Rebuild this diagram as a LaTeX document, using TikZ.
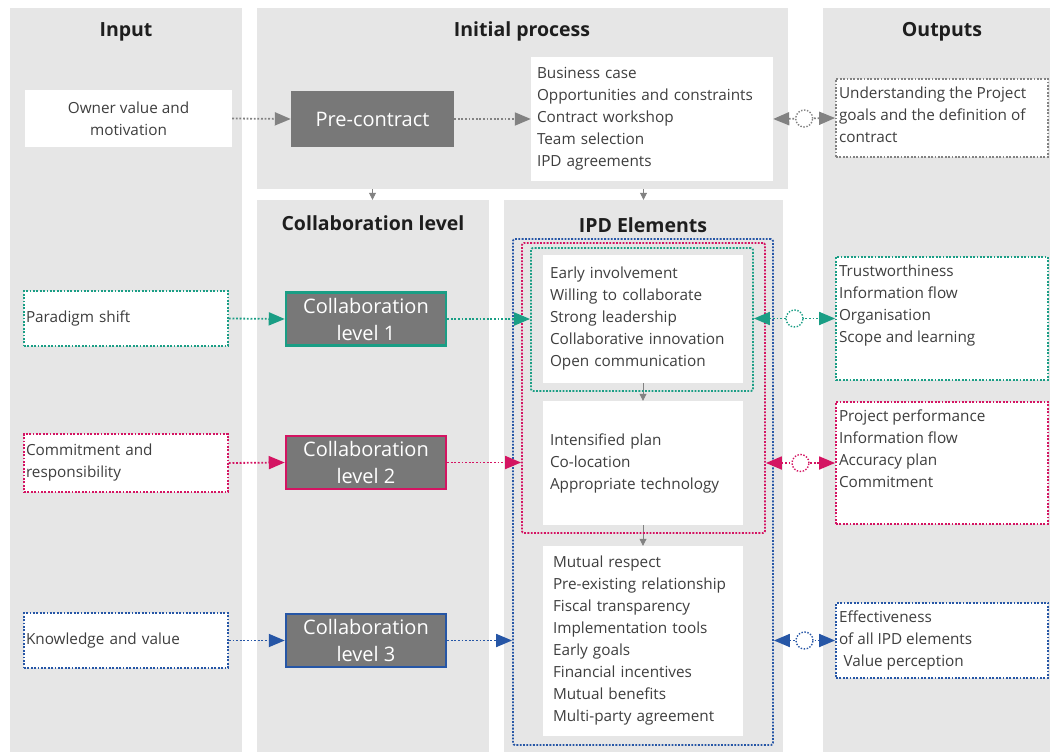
\documentclass[tikz,border=0pt]{standalone}
\usepackage{fontspec}
\setmainfont{Open Sans}
\usetikzlibrary{arrows.meta}
\definecolor{panelgray}{RGB}{230,230,230}
\definecolor{boxgray}{RGB}{120,120,120}
\definecolor{lvlteal}{RGB}{26,158,133}
\definecolor{lvlmag}{RGB}{212,20,98}
\definecolor{lvlblue}{RGB}{38,86,166}
\definecolor{txtgray}{RGB}{62,62,62}
\definecolor{titleblack}{RGB}{30,30,30}
\definecolor{arrgray}{RGB}{130,130,130}
\newcommand{\outlines}[2]{\parbox[c][#1][t]{206pt}{\raggedright #2}}

\begin{document}
\begin{tikzpicture}[x=1pt, y=-1pt,
        panel/.style={shape=rectangle, fill=panelgray, inner sep=0pt},
        title/.style={font=\fontsize{19.5}{22}\selectfont\bfseries, text=titleblack},
        body/.style={font=\fontsize{15.3}{22}\selectfont, text=txtgray},
        listbox/.style={shape=rectangle, fill=white, body, align=left, inner ysep=0pt},
        inbox/.style={shape=rectangle, fill=white, draw=#1, line width=1.8pt, dash pattern=on 1.8pt off 1.6pt, body, align=left, text width=200, inner xsep=2pt},
        outbox/.style={shape=rectangle, fill=white, draw=#1, line width=1.8pt, dash pattern=on 1.8pt off 1.6pt, body, inner xsep=3pt, inner ysep=8pt},
        lvlbox/.style={shape=rectangle, fill=boxgray, draw=#1, line width=2.5pt, text=white, font=\fontsize{20}{27}\selectfont, align=center, minimum width=160, minimum height=53},
        ipdframe/.style={shape=rectangle, draw=#1, line width=1.8pt, dash pattern=on 1.8pt off 1.5pt, rounded corners=2pt, inner sep=0pt},
        flow/.style={draw=#1, line width=1.8pt, dash pattern=on 1.8pt off 1.8pt, -{Triangle[length=16pt, width=13pt]}},
        twoway/.style={draw=#1, line width=1.8pt, dash pattern=on 1.8pt off 1.8pt, {Triangle[length=16pt, width=13pt]}-{Triangle[length=16pt, width=13pt]}},
        ring/.style={shape=circle, draw=#1, fill=white, line width=1.4pt, dash pattern=on 1.4pt off 1.6pt, minimum size=17, inner sep=0pt},
        drop/.style={draw=arrgray, line width=0.8pt, -{Triangle[length=7pt, width=7pt]}}]
        \useasboundingbox (0, 0) rectangle (1050, 752);

        % columns
        \node[name=inpanel, panel, minimum width=232, minimum height=744] at (126, 380) {};
        \node[name=initpanel, panel, minimum width=531, minimum height=181] at (522.5, 98.5) {};
        \node[name=colpanel, panel, minimum width=232, minimum height=552] at (373, 476) {};
        \node[name=ipdpanel, panel, minimum width=279, minimum height=552] at (643.5, 476) {};
        \node[name=outpanel, panel, minimum width=227, minimum height=744] at (936.5, 380) {};
        \node[name=intitle, title] at (126, 32) {Input};
        \node[name=inittitle, title] at (522, 31) {Initial process};
        \node[name=outtitle, title] at (942, 32) {Outputs};
        \node[name=coltitle, title] at (373, 223) {Collaboration level};
        \node[name=ipdtitle, title] at (643, 225) {IPD Elements};

        % initial process
        \node[name=owner, shape=rectangle, fill=white, body, align=center, minimum width=207, minimum height=57] at (128.5, 118.5) {Owner value and\\motivation};
        \node[name=pre, shape=rectangle, fill=boxgray, text=white, font=\fontsize{20}{22}\selectfont, minimum width=163, minimum height=56] at (372.5, 119) {Pre-contract};
        \node[name=bizlist, listbox, text width=230, inner xsep=6pt, minimum height=124] at (652, 119) {Business case\\Opportunities and constraints\\Contract workshop\\Team selection\\IPD agreements};
        \node[name=out0, outbox=arrgray] at (942, 118) {\outlines{62pt}{Understanding the Project\\goals and the definition of\\contract}};
        \draw[flow=arrgray] (owner.east) -- (pre.west);
        \draw[flow=arrgray] (pre.east) -- (pre.east -| bizlist.west);
        \draw[twoway=arrgray] (bizlist.east) -- node[ring=arrgray] {} (out0.west);
        \draw[drop] (initpanel.south -| pre.south) -- (colpanel.north -| pre.south);
        \draw[drop] (initpanel.south -| ipdpanel.north) -- (ipdpanel.north);

        % IPD element lists
        \node[name=list1, listbox, text width=186, inner xsep=7pt, minimum height=128] at (643, 319) {Early involvement\\Willing to collaborate\\Strong leadership\\Collaborative innovation\\Open communication};
        \node[name=list2, listbox, text width=186, inner xsep=7pt, minimum height=124] at (643, 463) {Intensified plan\\Co-location\\Appropriate technology};
        \node[name=list3, listbox, text width=180, inner xsep=10pt, minimum height=190] at (643, 641) {Mutual respect\\Pre-existing relationship\\Fiscal transparency\\Implementation tools\\Early goals\\Financial incentives\\Mutual benefits\\Multi-party agreement};
        \draw[drop] (list1.south) -- (list2.north);
        \draw[drop] (list2.south) -- (list3.north);
        \node[name=frm1, ipdframe=lvlteal, minimum width=222, minimum height=143] at (642, 319.5) {};
        \node[name=frm2, ipdframe=lvlmag, minimum width=243, minimum height=290] at (643.5, 388) {};
        \node[name=frm3, ipdframe=lvlblue, minimum width=260, minimum height=506] at (643, 492) {};

        % level 1
        \node[name=para, inbox=lvlteal, minimum height=55] at (126, 318.5) {Paradigm shift};
        \node[name=lvl1, lvlbox=lvlteal] at (366, 319) {Collaboration\\level 1};
        \node[name=out1, outbox=lvlteal] at (942, 318.5) {\outlines{107pt}{Trustworthiness\\Information flow\\Organisation\\Scope and learning}};
        \draw[flow=lvlteal] (para.east) -- (lvl1.west);
        \draw[flow=lvlteal] (lvl1.east) -- (lvl1.east -| frm1.west);
        \draw[twoway=lvlteal] (out1.west -| frm1.east) -- node[ring=lvlteal] {} (out1.west);

        % level 2
        \node[name=commit, inbox=lvlmag, minimum height=58] at (126, 463) {Commitment and\\responsibility};
        \node[name=lvl2, lvlbox=lvlmag] at (366, 462.5) {Collaboration\\level 2};
        \node[name=out2, outbox=lvlmag] at (942, 463) {\outlines{106pt}{Project performance\\Information flow\\Accuracy plan\\Commitment}};
        \draw[flow=lvlmag] (commit.east) -- (lvl2.west);
        \draw[flow=lvlmag] (lvl2.east) -- (lvl2.east -| frm2.west);
        \draw[twoway=lvlmag] (out2.west -| frm2.east) -- node[ring=lvlmag] {} (out2.west);

        % level 3
        \node[name=know, inbox=lvlblue, minimum height=55] at (126, 640.5) {Knowledge and value};
        \node[name=lvl3, lvlbox=lvlblue] at (366, 640.5) {Collaboration\\level 3};
        \node[name=out3, outbox=lvlblue] at (942, 640.5) {\outlines{59pt}{Effectiveness\\of all IPD elements\\\hspace*{0.3em}Value perception}};
        \draw[flow=lvlblue] (know.east) -- (lvl3.west);
        \draw[flow=lvlblue] (lvl3.east) -- (lvl3.east -| frm3.west);
        \draw[twoway=lvlblue] (out3.west -| frm3.east) -- node[ring=lvlblue] {} (out3.west);
\end{tikzpicture}
\end{document}
